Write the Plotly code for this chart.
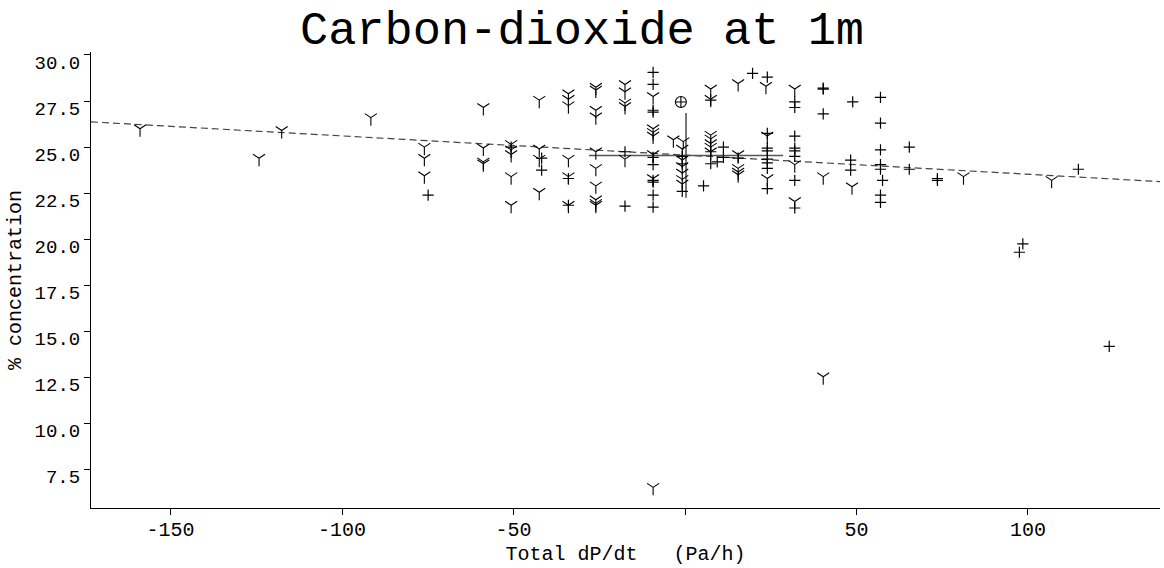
import plotly.graph_objects as go

# --- data ---
y_marker_x = [-158.9, -124.2, -117.6, -91.6,
              -76, -76, -76,
              -58.8, -58.8, -58.8, -58.8,
              -50.7, -50.7, -50.7, -50.7, -50.7,
              -42.5, -42.5, -42.5, -42.5,
              -34, -34, -34, -34, -34, -34,
              -26, -26, -26, -26, -26, -26, -26, -26, -26, -26,
              -17.5, -17.5, -17.5, -17.5, -17.5,
              -9.3, -9.3, -9.3, -9.3, -9.3, -9.3, -9.3,
              -3.4, -0.5, -0.8, -0.8, -0.8, -0.8, -0.8, -0.8,
              7.5, 7.5, 7.5, 7.5, 7.5, 7.5, 7.5,
              15.5, 15.5, 15.5, 15.5, 15.5,
              23.6, 24, 24,
              32, 32, 32,
              40.3, 40.3,
              48.7, 81.2, 106.9]
y_marker_y = [26.0, 24.4, 25.9, 26.6,
              25.0, 24.4, 23.45,
              27.15, 24.95, 24.2, 24.1,
              25.15, 24.85, 24.6, 23.4, 21.85,
              27.55, 24.9, 24.35, 22.55,
              27.9, 27.6, 27.25, 24.35, 23.4, 21.85,
              28.25, 28.1, 27.0, 26.65, 24.75, 23.85, 22.9, 22.15, 21.95, 21.85,
              28.4, 28.0, 27.4, 27.2, 24.35,
              27.75, 26.0, 25.8, 25.6, 24.6, 23.3, 6.55,
              25.4, 25.3, 24.9, 24.3, 23.95, 23.6, 23.25, 23.0,
              28.15, 27.6, 25.65, 25.45, 25.2, 25.0, 24.75,
              28.45, 24.6, 23.85, 23.65, 23.5,
              28.3, 25.6, 23.3,
              28.15, 24.05, 22.05,
              23.4, 12.55,
              22.85, 23.4, 23.2]

plus_x = [-74.9, -50.7, -41.8, -41.8, -34, -34, -17.5, -17.5,
          -9.3, -9.3, -9.3, -9.3, -9.3, -9.3, -9.3, -9.3, -9.3, -9.3,
          -0.8, -0.8, -0.8, 5.4,
          7.5, 7.5, 7.5, 11.2, 11.2, 9.4, 15.5, 19.7,
          24, 24, 24, 24, 24, 24, 24, 24,
          32, 32, 32, 32, 32, 32, 32, 32,
          40.3, 40.3, 40.3,
          48.9, 48.3, 48.3,
          57, 57, 57, 57, 57, 57.6, 57, 57,
          65.4, 65.4, 73.6, 73.6, 114.7, 98.5, 97.5, 123.7]
plus_y = [22.4, 25.0, 24.4, 23.75, 23.3, 21.85, 24.75, 21.8,
          29.05, 28.4, 27.0, 26.9, 24.45, 24.05, 23.2, 23.1, 22.4, 21.75,
          24.5, 24.1, 22.6, 22.9,
          27.55, 24.75, 24.1, 25.0, 24.45, 24.2, 24.4, 29.0,
          28.8, 25.75, 24.95, 24.8, 24.35, 24.15, 23.85, 22.75,
          27.45, 27.15, 25.6, 24.95, 24.8, 24.5, 23.2, 21.7,
          28.2, 28.15, 26.8,
          27.45, 24.3, 23.75,
          27.7, 26.3, 24.85, 24.05, 23.8, 23.2, 22.4, 22.0,
          25.0, 23.8, 23.3, 23.2, 23.8, 19.75, 19.3, 14.2]

circle_x = [-1.2]
circle_y = [27.45]

mean_x = [0.3]
mean_y = [24.55]
mean_err_x = [28.3]
mean_err_y = [2.3]

fit_x = [-173.2, 138.5]
fit_y = [26.37, 23.13]

x_tickvals = [-150, -100, -50, 0, 50, 100]
x_ticktext = ["-150", "-100", "-50", "", "50", "100"]
y_tickvals = [7.5, 10.0, 12.5, 15.0, 17.5, 20.0, 22.5, 25.0, 27.5, 30.0]

FONT = "Liberation Mono, Courier New, monospace"

fig = go.Figure()
fig.add_trace(go.Scatter(x=fit_x, y=fit_y, mode="lines",
                         line=dict(color="#444444", width=1.2, dash="7px,4px"),
                         hoverinfo="skip", showlegend=False))
fig.add_trace(go.Scatter(x=mean_x, y=mean_y, mode="markers",
                         marker=dict(size=1, color="rgba(0,0,0,0)"),
                         error_x=dict(type="data", array=mean_err_x, color="#555555", thickness=1.6, width=0),
                         error_y=dict(type="data", array=mean_err_y, color="#555555", thickness=1.6, width=0),
                         showlegend=False))
fig.add_trace(go.Scatter(x=y_marker_x, y=y_marker_y, mode="markers",
                         marker=dict(symbol="y-down", size=10, color="black",
                                     line=dict(color="black", width=1.1)),
                         showlegend=False))
fig.add_trace(go.Scatter(x=plus_x, y=plus_y, mode="markers",
                         marker=dict(symbol="cross-thin", size=8, color="black",
                                     line=dict(color="black", width=1.2)),
                         showlegend=False))
fig.add_trace(go.Scatter(x=circle_x, y=circle_y, mode="markers",
                         marker=dict(symbol="circle-cross-open", size=11, color="black",
                                     line=dict(color="black", width=1.1)),
                         showlegend=False))

fig.update_layout(
    width=1164, height=568,
    margin=dict(l=91, r=4, t=52, b=60),
    paper_bgcolor="white", plot_bgcolor="white",
    font=dict(family=FONT, color="black", size=18),
    title=dict(text="Carbon-dioxide at 1m", x=0.5, xref="container", xanchor="center",
               y=0.952, yref="container", yanchor="middle",
               font=dict(family=FONT, size=47, color="black")),
    xaxis=dict(range=[-173.2, 138.5], showline=True, linecolor="black", linewidth=1,
               ticks="outside", ticklen=6, tickcolor="black", tickwidth=1,
               tickvals=x_tickvals, ticktext=x_ticktext,
               showgrid=False, zeroline=False, ticklabelstandoff=-3,
               tickfont=dict(family=FONT, size=20),
               title=dict(text="Total dP/dt\u00a0\u00a0\u00a0(Pa/h)", standoff=4,
                          font=dict(family=FONT, size=20))),
    yaxis=dict(range=[5.43, 30.16], showline=True, linecolor="black", linewidth=1,
               ticks="outside", ticklen=6, tickcolor="black", tickwidth=1,
               tickvals=y_tickvals, tickformat=".1f", ticklabelshift=7,
               showgrid=False, zeroline=False,
               tickfont=dict(family=FONT, size=19),
               title=dict(text="% concentration", standoff=7,
                          font=dict(family=FONT, size=20))),
)

fig.write_html("out.html")
